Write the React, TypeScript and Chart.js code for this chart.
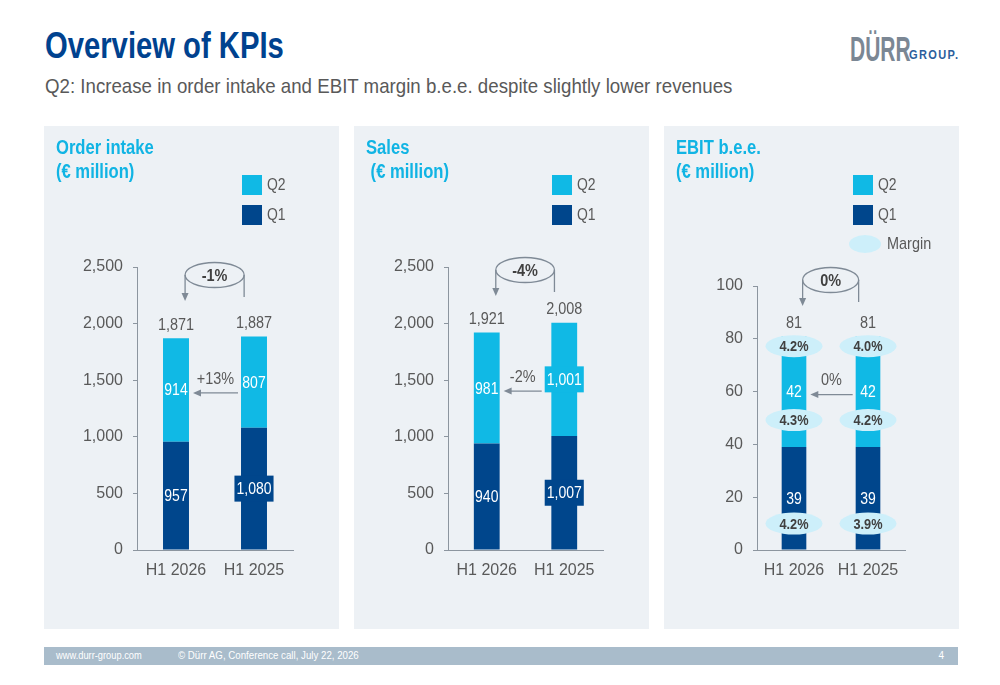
import React, { useEffect, useRef } from 'react';
import { Chart, registerables } from 'chart.js';

Chart.register(...registerables);

// ---------- data ----------
const categories = ['H1 2026', 'H1 2025'];

const orderQ1 = [957, 1080];
const orderQ2 = [914, 807];
const orderTotals = [1871, 1887];
const orderChangeTotal = '-1%';
const orderChangeQ2 = '+13%';

const salesQ1 = [940, 1007];
const salesQ2 = [981, 1001];
const salesTotals = [1921, 2008];
const salesChangeTotal = '-4%';
const salesChangeQ2 = '-2%';

const ebitQ1 = [39, 39];
const ebitQ2 = [42, 42];
const ebitTotals = [81, 81];
const ebitChangeTotal = '0%';
const ebitChangeQ2 = '0%';
const ebitMarginTotal = ['4.2%', '4.0%'];
const ebitMarginQ2 = ['4.3%', '4.2%'];
const ebitMarginQ1 = ['4.2%', '3.9%'];

const amountAxisMax = 2500;
const amountAxisStep = 500;
const ebitAxisMax = 100;
const ebitAxisStep = 20;

// ---------- style ----------
const SANS = "'Liberation Sans', Arial, sans-serif";
const Q1_COLOR = '#00468c';
const Q2_COLOR = '#10b9e5';
const MARGIN_COLOR = '#cdeffa';
const PANEL_BG = '#edf1f5';
const TXT = '#595959';
const DARK_TXT = '#404040';
const AXIS = '#8c959f';
const ARROW = '#7f8a96';
const TITLE_BLUE = '#00428f';
const PANEL_TITLE = '#11b4e4';
const NARROW_SX = 0.85;

const PANEL_W = 295;
const PANEL_H = 503;

const fmt = (v: number) => v.toLocaleString('en-US');

function sText(ctx: CanvasRenderingContext2D, t: string, x: number, y: number, font: string, sx = NARROW_SX) {
  ctx.save();
  ctx.font = font;
  ctx.translate(x, y);
  ctx.scale(sx, 1);
  ctx.fillText(t, 0, 0);
  ctx.restore();
}

function sWidth(ctx: CanvasRenderingContext2D, t: string, font: string, sx = NARROW_SX) {
  ctx.save();
  ctx.font = font;
  const w = ctx.measureText(t).width * sx;
  ctx.restore();
  return w;
}

function arrowHead(ctx: CanvasRenderingContext2D, x: number, y: number, dir: 'down' | 'left') {
  ctx.beginPath();
  if (dir === 'down') {
    ctx.moveTo(x, y);
    ctx.lineTo(x - 3.5, y - 8);
    ctx.lineTo(x + 3.5, y - 8);
  } else {
    ctx.moveTo(x, y);
    ctx.lineTo(x + 8, y - 3.5);
    ctx.lineTo(x + 8, y + 3.5);
  }
  ctx.closePath();
  ctx.fill();
}

type PanelCfg = {
  left: number;
  title: string[];
  showMargin: boolean;
  q1: number[];
  q2: number[];
  totals: number[];
  changeTotal: string;
  changeQ2: string;
  marginTotal?: string[];
  marginQ2?: string[];
  marginQ1?: string[];
  yMax: number;
  yStep: number;
  areaLeft: number;
  padRight: number;
  padTop: number;
  cylOffset: number;
  legendX: number;
};

const LABEL_FONT = `16.5px ${SANS}`;

function makePlugin(cfg: PanelCfg) {
  return {
    id: 'annot',
    afterDatasetsDraw(chart: any) {
      const ctx: CanvasRenderingContext2D = chart.ctx;
      const m1 = chart.getDatasetMeta(0).data;
      const m2 = chart.getDatasetMeta(1).data;
      const area = chart.chartArea;
      ctx.save();
      ctx.textAlign = 'center';
      ctx.textBaseline = 'middle';

      const segLabel = (v: number, x: number, y: number, w: number, bg: string) => {
        const t = fmt(v);
        const tw = sWidth(ctx, t, LABEL_FONT);
        if (tw > w - 2) {
          ctx.fillStyle = bg;
          ctx.fillRect(x - tw / 2 - 2, y - 13, tw + 4, 26);
        }
        ctx.fillStyle = '#ffffff';
        sText(ctx, t, x, y + 1, LABEL_FONT);
      };

      const q2Mid: number[] = [];
      for (let i = 0; i < m1.length; i++) {
        const b1 = m1[i];
        const b2 = m2[i];
        segLabel(cfg.q1[i], b1.x, (b1.y + b1.base) / 2, b1.width, Q1_COLOR);
        const mid2 = (b2.y + b2.base) / 2;
        q2Mid.push(mid2);
        segLabel(cfg.q2[i], b2.x, mid2, b2.width, Q2_COLOR);
      }

      // margin ellipses
      if (cfg.marginTotal && cfg.marginQ2 && cfg.marginQ1) {
        for (let i = 0; i < m1.length; i++) {
          const b1 = m1[i];
          const b2 = m2[i];
          const spots: [number, string][] = [
            [b2.y + 10, cfg.marginTotal[i]],
            [b1.y - 27, cfg.marginQ2[i]],
            [b1.base - 26, cfg.marginQ1[i]],
          ];
          spots.forEach(([y, t]) => {
            ctx.fillStyle = MARGIN_COLOR;
            ctx.beginPath();
            ctx.ellipse(b1.x, y, 28.5, 11, 0, 0, Math.PI * 2);
            ctx.fill();
            ctx.fillStyle = DARK_TXT;
            sText(ctx, t, b1.x, y + 1, `bold 15px ${SANS}`);
          });
        }
      }

      // totals
      ctx.fillStyle = TXT;
      for (let i = 0; i < m2.length; i++) {
        sText(ctx, fmt(cfg.totals[i]), m2[i].x, m2[i].y - 13, `17px ${SANS}`);
      }

      // cylinder (total change)
      const bw = m1[0].width;
      const lx = m1[0].x + bw * 0.35;
      const rx = m1[1].x - bw * 0.38;
      const cy = area.top + cfg.cylOffset;
      ctx.strokeStyle = ARROW;
      ctx.fillStyle = ARROW;
      ctx.lineWidth = 1.3;
      ctx.beginPath();
      ctx.ellipse((lx + rx) / 2, cy, (rx - lx) / 2, 12.5, 0, 0, Math.PI * 2);
      ctx.stroke();
      ctx.beginPath();
      ctx.moveTo(lx, cy);
      ctx.lineTo(lx, cy + 20);
      ctx.stroke();
      arrowHead(ctx, lx, cy + 26, 'down');
      ctx.beginPath();
      ctx.moveTo(rx, cy);
      ctx.lineTo(rx, cy + 22);
      ctx.stroke();
      ctx.fillStyle = DARK_TXT;
      sText(ctx, cfg.changeTotal, (lx + rx) / 2, cy + 1, `bold 17px ${SANS}`);

      // Q2 change arrow
      const rightLabelW = sWidth(ctx, fmt(cfg.q2[1]), LABEL_FONT);
      const rightEdge = Math.min(m2[1].x - bw / 2, rightLabelW > bw - 2 ? m2[1].x - rightLabelW / 2 - 2 : 1e9) - 3;
      const leftEdge = m2[0].x + bw / 2 + 4;
      const ay = q2Mid[0] + 3;
      ctx.strokeStyle = ARROW;
      ctx.fillStyle = ARROW;
      ctx.beginPath();
      ctx.moveTo(rightEdge, ay);
      ctx.lineTo(leftEdge + 6, ay);
      ctx.stroke();
      arrowHead(ctx, leftEdge, ay, 'left');
      ctx.fillStyle = TXT;
      sText(ctx, cfg.changeQ2, (leftEdge + rightEdge) / 2, ay - 14, `17px ${SANS}`);

      ctx.restore();
    },
  };
}

const Squeeze = ({ sx, children, style }: { sx: number; children: any; style?: any }) => (
  <span style={{ display: 'inline-block', transform: `scaleX(${sx})`, transformOrigin: 'left center', whiteSpace: 'pre', ...style }}>
    {children}
  </span>
);

function Panel({ cfg }: { cfg: PanelCfg }) {
  const ref = useRef<HTMLCanvasElement | null>(null);
  useEffect(() => {
    if (!ref.current) return;
    const chart = new Chart(ref.current, {
      type: 'bar',
      data: {
        labels: categories,
        datasets: [
          { label: 'Q1', data: cfg.q1, backgroundColor: Q1_COLOR, barPercentage: 0.333, categoryPercentage: 1 },
          { label: 'Q2', data: cfg.q2, backgroundColor: Q2_COLOR, barPercentage: 0.333, categoryPercentage: 1 },
        ],
      },
      options: {
        animation: false,
        responsive: false,
        devicePixelRatio: 1,
        locale: 'en-US',
        layout: { padding: { left: 0, right: cfg.padRight, top: cfg.padTop, bottom: 39 } },
        plugins: { legend: { display: false }, tooltip: { enabled: false }, title: { display: false } },
        scales: {
          x: {
            stacked: true,
            grid: { display: true, drawOnChartArea: false, drawTicks: false },
            border: { display: true, color: AXIS, width: 1 },
            ticks: { color: TXT, font: { family: SANS, size: 16 }, padding: 11 },
            afterFit: (s: any) => {
              s.height = 40;
            },
          },
          y: {
            stacked: true,
            min: 0,
            max: cfg.yMax,
            ticks: { stepSize: cfg.yStep, color: TXT, font: { family: SANS, size: 16 }, padding: 10 },
            grid: { display: true, drawOnChartArea: false, drawTicks: true, tickLength: 4, color: AXIS },
            border: { display: true, color: AXIS, width: 1 },
            afterFit: (s: any) => {
              s.width = cfg.areaLeft;
            },
          },
        },
      } as any,
      plugins: [makePlugin(cfg)],
    });
    return () => chart.destroy();
  }, [cfg]);

  const legendItem = (top: number, color: string, label: string) => (
    <div style={{ position: 'absolute', left: cfg.legendX, top, height: 20, display: 'flex', alignItems: 'center' }}>
      <div style={{ width: 20, height: 20, background: color }} />
      <Squeeze sx={0.82} style={{ marginLeft: 5, font: `17px ${SANS}`, color: TXT }}>{label}</Squeeze>
    </div>
  );

  return (
    <div style={{ position: 'absolute', left: cfg.left, top: 126, width: PANEL_W, height: PANEL_H, background: PANEL_BG }}>
      <canvas ref={ref} width={PANEL_W} height={PANEL_H} style={{ position: 'absolute', left: 0, top: 0, width: PANEL_W, height: PANEL_H }} />
      <div style={{ position: 'absolute', left: 12, top: 9, font: `bold 20px ${SANS}`, lineHeight: '24px', color: PANEL_TITLE }}>
        {cfg.title.map((t, i) => (
          <div key={i}>
            <Squeeze sx={0.83}>{t}</Squeeze>
          </div>
        ))}
      </div>
      {legendItem(49, Q2_COLOR, 'Q2')}
      {legendItem(79, Q1_COLOR, 'Q1')}
      {cfg.showMargin && (
        <div style={{ position: 'absolute', left: cfg.legendX - 4, top: 108, height: 20, display: 'flex', alignItems: 'center' }}>
          <div style={{ width: 32, height: 18, borderRadius: '50%', background: MARGIN_COLOR }} />
          <Squeeze sx={0.85} style={{ marginLeft: 6, font: `17px ${SANS}`, color: TXT }}>Margin</Squeeze>
        </div>
      )}
    </div>
  );
}

const panels: PanelCfg[] = [
  {
    left: 44,
    title: ['Order intake', '(€ million)'],
    showMargin: false,
    q1: orderQ1,
    q2: orderQ2,
    totals: orderTotals,
    changeTotal: orderChangeTotal,
    changeQ2: orderChangeQ2,
    yMax: amountAxisMax,
    yStep: amountAxisStep,
    areaLeft: 93,
    padRight: 46,
    padTop: 141,
    cylOffset: 8,
    legendX: 198,
  },
  {
    left: 354,
    title: ['Sales', ' (€ million)'],
    showMargin: false,
    q1: salesQ1,
    q2: salesQ2,
    totals: salesTotals,
    changeTotal: salesChangeTotal,
    changeQ2: salesChangeQ2,
    yMax: amountAxisMax,
    yStep: amountAxisStep,
    areaLeft: 94,
    padRight: 46,
    padTop: 141,
    cylOffset: 3,
    legendX: 198,
  },
  {
    left: 664,
    title: ['EBIT b.e.e.', '(€ million)'],
    showMargin: true,
    q1: ebitQ1,
    q2: ebitQ2,
    totals: ebitTotals,
    changeTotal: ebitChangeTotal,
    changeQ2: ebitChangeQ2,
    marginTotal: ebitMarginTotal,
    marginQ2: ebitMarginQ2,
    marginQ1: ebitMarginQ1,
    yMax: ebitAxisMax,
    yStep: ebitAxisStep,
    areaLeft: 93,
    padRight: 54,
    padTop: 160,
    cylOffset: -6,
    legendX: 189,
  },
];

export default function App() {
  return (
    <div style={{ position: 'fixed', left: 0, top: 0, width: 1000, height: 685, background: '#ffffff', overflow: 'hidden' }}>
      <div style={{ position: 'absolute', left: 45, top: 27, font: `bold 37px ${SANS}`, lineHeight: '37px', color: TITLE_BLUE }}>
        <Squeeze sx={0.79}>Overview of KPIs</Squeeze>
      </div>
      <div style={{ position: 'absolute', left: 45, top: 74, font: `21px ${SANS}`, lineHeight: '24px', color: TXT }}>
        <Squeeze sx={0.89}>Q2: Increase in order intake and EBIT margin b.e.e. despite slightly lower revenues</Squeeze>
      </div>
      <div style={{ position: 'absolute', left: 850, top: 31, font: `bold 35px ${SANS}`, lineHeight: '35px', color: '#7b8794' }}>
        <Squeeze sx={0.6}>DÜRR</Squeeze>
      </div>
      <div style={{ position: 'absolute', left: 909, top: 47, font: `bold 13px ${SANS}`, lineHeight: '16px', color: '#2c5e9c', letterSpacing: 1.6 }}>
        <Squeeze sx={0.85}>GROUP.</Squeeze>
      </div>
      {panels.map((p, i) => (
        <Panel key={i} cfg={p} />
      ))}
      <div style={{ position: 'absolute', left: 44, top: 647, width: 914, height: 18, background: '#a9bccb', color: '#ffffff', font: `10px ${SANS}`, lineHeight: '18px' }}>
        <span style={{ position: 'absolute', left: 12 }}>
          <Squeeze sx={0.93}>www.durr-group.com</Squeeze>
        </span>
        <span style={{ position: 'absolute', left: 134 }}>
          <Squeeze sx={0.97}>© Dürr AG, Conference call, July 22, 2026</Squeeze>
        </span>
        <span style={{ position: 'absolute', right: 14 }}>4</span>
      </div>
    </div>
  );
}
